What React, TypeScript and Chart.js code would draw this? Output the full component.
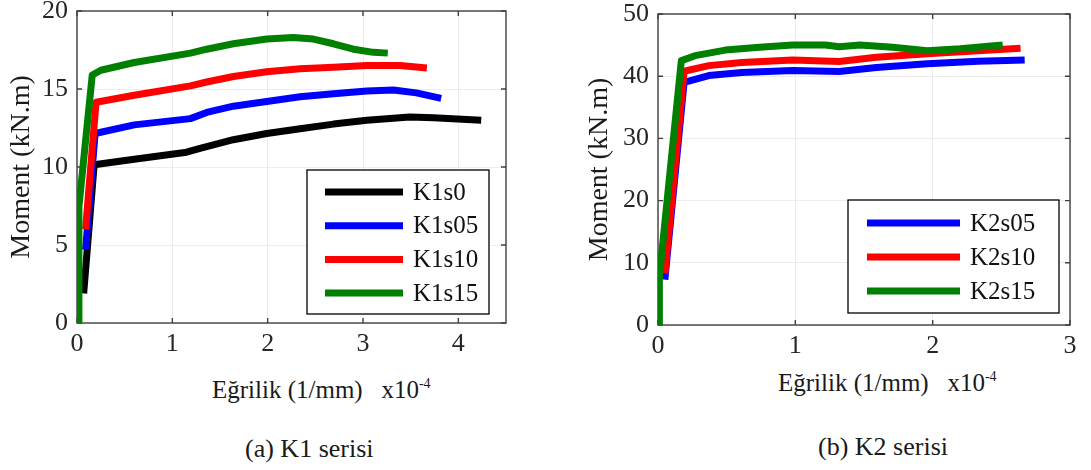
import React, { useEffect, useRef } from "react";
import { Chart, registerables } from "chart.js";

Chart.register(...registerables);

const FONT = "'Liberation Serif', 'Times New Roman', Times, serif";

// ---------- K1 series (x: curvature ×10^-4 1/mm, y: moment kN.m) ----------
const k1Labels = ["K1s0", "K1s05", "K1s10", "K1s15"];
const k1s0X = [0.07, 0.18, 0.6, 1.15, 1.29, 1.64, 1.99, 2.34, 2.69, 3.04, 3.49, 3.74, 4.24];
const k1s0Y = [1.9, 10.15, 10.5, 10.95, 11.2, 11.75, 12.15, 12.45, 12.75, 13.0, 13.2, 13.15, 13.0];
const k1s05X = [0.09, 0.19, 0.6, 1.19, 1.36, 1.64, 1.99, 2.34, 2.69, 3.04, 3.32, 3.56, 3.82];
const k1s05Y = [4.7, 12.15, 12.7, 13.1, 13.5, 13.9, 14.2, 14.5, 14.7, 14.87, 14.93, 14.75, 14.4];
const k1s10X = [0.09, 0.2, 0.6, 1.19, 1.36, 1.64, 1.99, 2.34, 2.69, 3.04, 3.39, 3.67];
const k1s10Y = [6.0, 14.15, 14.6, 15.2, 15.45, 15.8, 16.1, 16.3, 16.4, 16.5, 16.5, 16.35];
const k1s15X = [0.02, 0.02, 0.16, 0.25, 0.6, 1.19, 1.36, 1.64, 1.99, 2.27, 2.48, 2.69, 2.9, 3.11, 3.26];
const k1s15Y = [0, 7.45, 15.9, 16.2, 16.7, 17.3, 17.55, 17.9, 18.2, 18.3, 18.2, 17.9, 17.55, 17.35, 17.3];
const k1XTicks = [0, 1, 2, 3, 4];
const k1YTicks = [0, 5, 10, 15, 20];

// ---------- K2 series ----------
const k2Labels = ["K2s05", "K2s10", "K2s15"];
const k2s05X = [0.05, 0.19, 0.37, 0.61, 0.98, 1.32, 1.59, 1.96, 2.33, 2.67];
const k2s05Y = [7.3, 39.0, 40.1, 40.6, 40.9, 40.75, 41.4, 42.0, 42.4, 42.6];
const k2s10X = [0.05, 0.19, 0.37, 0.61, 0.98, 1.32, 1.59, 1.96, 2.33, 2.64];
const k2s10Y = [8.3, 40.8, 41.7, 42.2, 42.6, 42.35, 43.05, 43.6, 44.1, 44.5];
const k2s15X = [0.01, 0.01, 0.17, 0.27, 0.49, 0.74, 0.98, 1.22, 1.32, 1.47, 1.71, 1.96, 2.2, 2.51];
const k2s15Y = [0, 7.75, 42.5, 43.3, 44.2, 44.65, 45.0, 45.0, 44.75, 45.0, 44.65, 44.1, 44.4, 45.0];
const k2XTicks = [0, 1, 2, 3];
const k2YTicks = [0, 10, 20, 30, 40, 50];

const C_BLACK = "#000000";
const C_BLUE = "#0000ff";
const C_RED = "#ff0000";
const C_GREEN = "#007f00";

type Series = { label: string; xs: number[]; ys: number[]; color: string };

const k1Series: Series[] = [
  { label: k1Labels[0], xs: k1s0X, ys: k1s0Y, color: C_BLACK },
  { label: k1Labels[1], xs: k1s05X, ys: k1s05Y, color: C_BLUE },
  { label: k1Labels[2], xs: k1s10X, ys: k1s10Y, color: C_RED },
  { label: k1Labels[3], xs: k1s15X, ys: k1s15Y, color: C_GREEN },
];
const k2Series: Series[] = [
  { label: k2Labels[0], xs: k2s05X, ys: k2s05Y, color: C_BLUE },
  { label: k2Labels[1], xs: k2s10X, ys: k2s10Y, color: C_RED },
  { label: k2Labels[2], xs: k2s15X, ys: k2s15Y, color: C_GREEN },
];

const LINE_W = 7;

const boxPlugin = {
  id: "mBox",
  beforeDatasetsDraw(chart: any) {
    const { ctx, chartArea: a, scales } = chart;
    const xs = scales.x;
    const ys = scales.y;
    ctx.save();
    ctx.strokeStyle = "#404040";
    ctx.lineWidth = 1.4;
    ctx.strokeRect(a.left, a.top, a.right - a.left, a.bottom - a.top);
    const L = 5;
    ctx.beginPath();
    xs.ticks.forEach((t: any) => {
      const px = xs.getPixelForValue(t.value);
      ctx.moveTo(px, a.bottom);
      ctx.lineTo(px, a.bottom - L);
      ctx.moveTo(px, a.top);
      ctx.lineTo(px, a.top + L);
    });
    ys.ticks.forEach((t: any) => {
      const py = ys.getPixelForValue(t.value);
      ctx.moveTo(a.left, py);
      ctx.lineTo(a.left + L, py);
      ctx.moveTo(a.right, py);
      ctx.lineTo(a.right - L, py);
    });
    ctx.stroke();
    ctx.restore();
  },
};

const legendPlugin = {
  id: "mLegend",
  afterDraw(chart: any, _args: any, opts: any) {
    const { ctx } = chart;
    const { x, y, w, h, lineX0, lineX1, textX, row0, rowGap, fontSize } = opts;
    ctx.save();
    ctx.fillStyle = "#ffffff";
    ctx.fillRect(x, y, w, h);
    ctx.strokeStyle = "#000000";
    ctx.lineWidth = 1.3;
    ctx.strokeRect(x, y, w, h);
    ctx.font = `${fontSize}px ${FONT}`;
    ctx.textBaseline = "middle";
    ctx.textAlign = "left";
    chart.data.datasets.forEach((ds: any, i: number) => {
      const ry = row0 + i * rowGap;
      ctx.strokeStyle = ds.borderColor;
      ctx.lineWidth = LINE_W;
      ctx.lineCap = "butt";
      ctx.beginPath();
      ctx.moveTo(lineX0, ry);
      ctx.lineTo(lineX1, ry);
      ctx.stroke();
      ctx.fillStyle = "#111111";
      ctx.fillText(ds.label, textX, ry + 1);
    });
    ctx.restore();
  },
};

type PanelProps = {
  series: Series[];
  xMax: number;
  yMax: number;
  xTicks: number[];
  yTicks: number[];
  width: number;
  height: number;
  plot: { left: number; top: number; right: number; bottom: number };
  legend: any;
  yTitlePad: number;
  style: React.CSSProperties;
};

function Panel(p: PanelProps) {
  const ref = useRef<HTMLCanvasElement | null>(null);
  useEffect(() => {
    if (!ref.current) return;
    const n = p.series.length;
    const datasets = p.series.map((s, i) => ({
      label: s.label,
      data: s.xs.map((x, j) => ({ x, y: s.ys[j] })),
      borderColor: s.color,
      backgroundColor: s.color,
      borderWidth: LINE_W,
      pointRadius: 0,
      tension: 0,
      fill: false,
      borderJoinStyle: "round",
      borderCapStyle: "butt",
      order: n - 1 - i,
    }));
    const tickFont = { family: FONT, size: 26 };
    const chart = new Chart(ref.current, {
      type: "line",
      data: { datasets } as any,
      plugins: [boxPlugin, legendPlugin],
      options: {
        animation: false,
        responsive: false,
        maintainAspectRatio: false,
        devicePixelRatio: 1,
        parsing: false as any,
        layout: {
          padding: { left: 0, top: p.plot.top, right: p.width - p.plot.right, bottom: 0 },
        },
        plugins: {
          legend: { display: false },
          tooltip: { enabled: false },
          mLegend: p.legend,
        } as any,
        scales: {
          x: {
            type: "linear",
            min: 0,
            max: p.xMax,
            afterBuildTicks: (s: any) => {
              s.ticks = p.xTicks.map((v) => ({ value: v }));
            },
            afterFit: (s: any) => {
              s.height = p.height - p.plot.bottom;
              s.paddingLeft = 0;
              s.paddingRight = 0;
            },
            ticks: {
              font: tickFont,
              color: "#262626",
              padding: 6,
              maxRotation: 0,
              autoSkip: false,
              callback: (v: any) => String(v),
            },
            grid: { color: "#ececec", lineWidth: 1, drawTicks: false },
            border: { display: false },
          },
          y: {
            type: "linear",
            min: 0,
            max: p.yMax,
            afterBuildTicks: (s: any) => {
              s.ticks = p.yTicks.map((v) => ({ value: v }));
            },
            afterFit: (s: any) => {
              s.width = p.plot.left;
              s.paddingTop = 0;
              s.paddingBottom = 0;
            },
            ticks: {
              font: tickFont,
              color: "#262626",
              padding: 9,
              autoSkip: false,
              callback: (v: any) => String(v),
            },
            grid: { color: "#ececec", lineWidth: 1, drawTicks: false },
            border: { display: false },
            title: {
              display: true,
              text: "Moment (kN.m)",
              color: "#1a1a1a",
              font: { family: FONT, size: 28 },
              padding: { top: p.yTitlePad, bottom: 0 },
            },
          },
        },
      } as any,
    });
    return () => chart.destroy();
  }, []);
  return (
    <canvas
      ref={ref}
      width={p.width}
      height={p.height}
      style={{ position: "absolute", width: p.width, height: p.height, ...p.style }}
    />
  );
}

const textBase: React.CSSProperties = {
  position: "absolute",
  fontFamily: FONT,
  color: "#1a1a1a",
  whiteSpace: "pre",
  lineHeight: "25px",
};

function XTitle({ left, top }: { left: number; top: number }) {
  return (
    <div style={{ ...textBase, left, top, fontSize: 25 }}>
      {"Eğrilik (1/mm)   x10"}
      <span style={{ fontSize: 14, position: "relative", top: -10 }}>-4</span>
    </div>
  );
}

export default function App() {
  return (
    <div
      style={{
        position: "fixed",
        left: 0,
        top: 0,
        width: 1091,
        height: 470,
        background: "#ffffff",
        overflow: "hidden",
      }}
    >
      <Panel
        series={k1Series}
        xMax={4.5}
        yMax={20}
        xTicks={k1XTicks}
        yTicks={k1YTicks}
        width={545}
        height={362}
        plot={{ left: 77, top: 11, right: 506, bottom: 323 }}
        legend={{ x: 307, y: 170, w: 182, h: 144, lineX0: 325, lineX1: 403, textX: 413, row0: 192, rowGap: 33.7, fontSize: 25 }}
        yTitlePad={5}
        style={{ left: 0, top: 0 }}
      />
      <Panel
        series={k2Series}
        xMax={3}
        yMax={50}
        xTicks={k2XTicks}
        yTicks={k2YTicks}
        width={531}
        height={362}
        plot={{ left: 98, top: 14, right: 510, bottom: 325 }}
        legend={{ x: 288, y: 200, w: 211, h: 113, lineX0: 307, lineX1: 400, textX: 410, row0: 223, rowGap: 34, fontSize: 25 }}
        yTitlePad={23}
        style={{ left: 560, top: 0 }}
      />
      <XTitle left={212} top={377} />
      <XTitle left={778} top={370} />
      <div style={{ ...textBase, left: 245, top: 436, fontSize: 26 }}>(a) K1 serisi</div>
      <div style={{ ...textBase, left: 818, top: 434, fontSize: 26 }}>(b) K2 serisi</div>
    </div>
  );
}
